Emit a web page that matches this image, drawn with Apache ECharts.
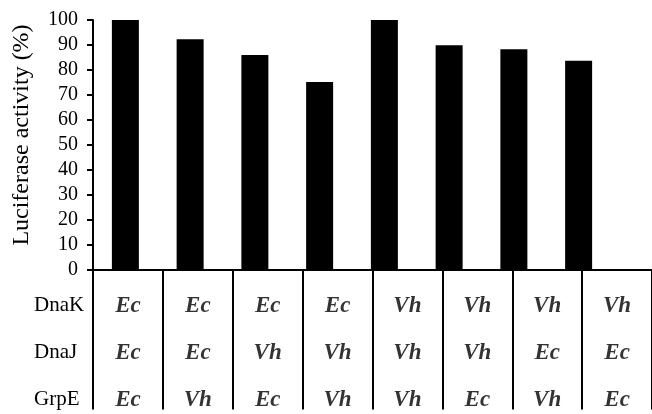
<!DOCTYPE html>
<html>
<head>
<meta charset="utf-8">
<script src="https://cdn.jsdelivr.net/npm/echarts@6/dist/echarts.min.js"></script>
<style>
html,body{margin:0;padding:0;background:#fff;}
#c{width:652px;height:414px;}
</style>
</head>
<body>
<div id="c"></div>
<script>
// Data
var categories = ['1','2','3','4','5','6','7','8'];
var activity = [100, 92.3, 86, 75.2, 100, 89.9, 88.3, 83.7];
var yTicks = [0,10,20,30,40,50,60,70,80,90,100];
var rowNames = ['DnaK', 'DnaJ', 'GrpE'];
var dnaK = ['Ec','Ec','Ec','Ec','Vh','Vh','Vh','Vh'];
var dnaJ = ['Ec','Ec','Vh','Vh','Vh','Vh','Ec','Ec'];
var grpE = ['Ec','Vh','Ec','Vh','Vh','Ec','Vh','Ec'];

var rows = [dnaK, dnaJ, grpE];
var cellData = [];
rows.forEach(function (r, ri) {
  r.forEach(function (t, ci) {
    cellData.push([ci, ri + 1, t]);
  });
});

var serif = 'Liberation Serif';
var chart = echarts.init(document.getElementById('c'), null, {renderer: 'canvas'});
chart.setOption({
  animation: false,
  backgroundColor: '#fff',
  grid: [
    {left: 93, top: 20, width: 518, height: 250},
    {left: 93, top: 270, width: 568, height: 144}
  ],
  xAxis: [
    {
      type: 'category', gridIndex: 0, data: categories,
      axisLine: {show: false}, axisTick: {show: false}, axisLabel: {show: false}
    },
    {
      type: 'category', gridIndex: 1, data: categories, position: 'top',
      axisLine: {show: true, lineStyle: {color: '#000', width: 2}},
      axisTick: {show: false}, axisLabel: {show: false},
      splitLine: {show: true, interval: 0, lineStyle: {color: '#000', width: 2}}
    }
  ],
  yAxis: [
    {
      type: 'value', gridIndex: 0, min: 0, max: 100, interval: 10,
      name: 'Luciferase activity (%)', nameLocation: 'middle', nameGap: 59,
      nameTextStyle: {fontFamily: serif, fontSize: 24, color: '#000', padding: [0, 0, 0, 20]},
      axisLine: {show: true, lineStyle: {color: '#000', width: 2}},
      axisTick: {show: true, length: 6, lineStyle: {color: '#000', width: 2}},
      axisLabel: {fontFamily: serif, fontSize: 20, color: '#000', margin: 15,
        formatter: function (v) { return yTicks.indexOf(v) >= 0 ? String(v) : ''; }},
      splitLine: {show: false}
    },
    {
      type: 'value', gridIndex: 1, inverse: true, min: 0.24, max: 3.21,
      axisLine: {show: false}, axisTick: {show: false}, splitLine: {show: false},
      axisLabel: {
        show: true, customValues: [1, 2, 3], align: 'left', margin: 59,
        fontFamily: serif, fontSize: 21, color: '#000', padding: [0, 0, 10, 0],
        formatter: function (v) { return rowNames[Math.round(v) - 1] || ''; }
      }
    }
  ],
  series: [
    {
      type: 'bar', xAxisIndex: 0, yAxisIndex: 0, data: activity,
      barWidth: 27, itemStyle: {color: '#000'}
    },
    {
      type: 'scatter', xAxisIndex: 1, yAxisIndex: 1, data: cellData,
      symbolSize: 0,
      label: {
        show: true, position: 'inside', color: '#000',
        fontFamily: serif, fontSize: 23, fontWeight: 'bold', fontStyle: 'italic',
        formatter: function (p) { return p.data[2]; }
      }
    }
  ]
});
</script>
</body>
</html>
